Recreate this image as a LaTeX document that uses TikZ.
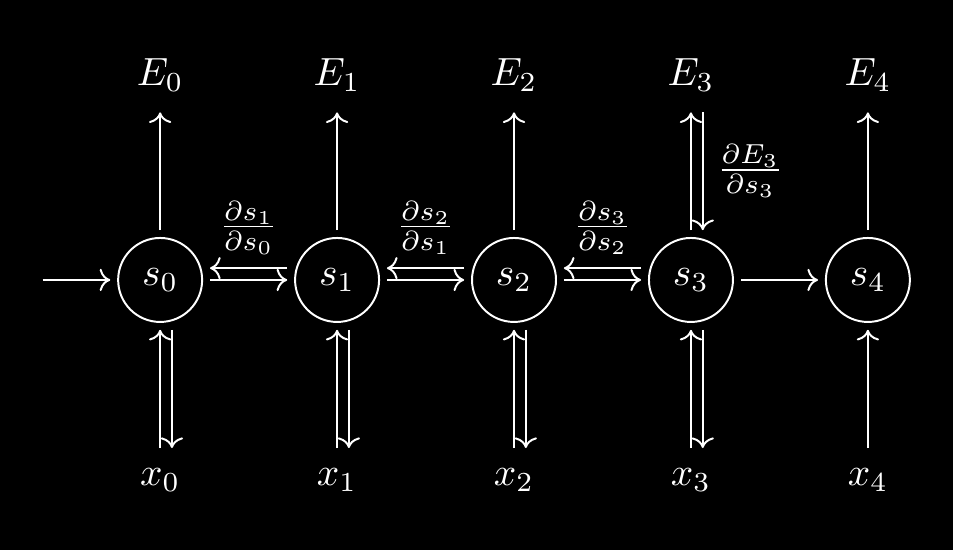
\documentclass[tikz,border=0pt]{standalone}
\usepackage{xcolor}
\usepackage{tikz}
\usetikzlibrary{arrows.meta}
\usetikzlibrary{positioning}
\usepackage{amsmath}
\usepackage{amssymb}

\begin{document}
\begin{tikzpicture}[white, line width=0.5pt]
\tikzstyle{estado}=[
    circle,
    draw=white,
    inner sep=0pt,
    outer sep=2pt,
    minimum size=7.5mm % Tamaño de nodo
]
\tikzstyle{etiqueta}=[inner sep=3.33pt, outer sep=2pt]
\tikzstyle{flecha}=[->]

% Fondo
\path[use as bounding box, fill=black] (-1.43,-2.41) rectangle (7.08,2.5);

% Estados
\node[estado] (s0) at (0,0) {$s_0$};
\node[estado] (s1) at (1.58,0) {$s_1$};
\node[estado] (s2) at (3.16,0) {$s_2$};
\node[estado] (s3) at (4.74,0) {$s_3$};
\node[estado] (s4) at (6.32,0) {$s_4$};

% Salidas
\node[etiqueta] (E0) at (0,1.83) {$E_0$};
\node[etiqueta] (E1) at (1.58,1.83) {$E_1$};
\node[etiqueta] (E2) at (3.16,1.83) {$E_2$};
\node[etiqueta] (E3) at (4.74,1.83) {$E_3$};
\node[etiqueta] (E4) at (6.32,1.83) {$E_4$};

% Entradas
\node[etiqueta] (x0) at (0,-1.79) {$x_0$};
\node[etiqueta] (x1) at (1.58,-1.79) {$x_1$};
\node[etiqueta] (x2) at (3.16,-1.79) {$x_2$};
\node[etiqueta] (x3) at (4.74,-1.79) {$x_3$};
\node[etiqueta] (x4) at (6.32,-1.79) {$x_4$};

\coordinate (inicio) at (-1.05,0);

% Flechas hacia adelante
\draw[flecha] (inicio) -- (s0);
\draw[flecha] (s0) -- (s1);
\draw[flecha] (s1) -- (s2);
\draw[flecha] (s2) -- (s3);
\draw[flecha] (s3) -- (s4);

\draw[flecha] (s0) -- (E0);
\draw[flecha] (s1) -- (E1);
\draw[flecha] (s2) -- (E2);
\draw[flecha] (s3) -- (E3);
\draw[flecha] (s4) -- (E4);

\draw[flecha] (x0) -- (s0);
\draw[flecha] (x1) -- (s1);
\draw[flecha] (x2) -- (s2);
\draw[flecha] (x3) -- (s3);
\draw[flecha] (x4) -- (s4);

% Gradientes
\draw[flecha] ([yshift=3pt]s1.west) -- node[above] {$\frac{\partial s_1}{\partial s_0}$} ([yshift=3pt]s0.east);
\draw[flecha] ([yshift=3pt]s2.west) -- node[above] {$\frac{\partial s_2}{\partial s_1}$} ([yshift=3pt]s1.east);
\draw[flecha] ([yshift=3pt]s3.west) -- node[above] {$\frac{\partial s_3}{\partial s_2}$} ([yshift=3pt]s2.east);
\draw[flecha] ([xshift=3pt]E3.south) -- node[right] {$\frac{\partial E_3}{\partial s_3}$} ([xshift=3pt]s3.north);

\draw[flecha] ([xshift=3pt]s0.south) -- ([xshift=3pt]x0.north);
\draw[flecha] ([xshift=3pt]s1.south) -- ([xshift=3pt]x1.north);
\draw[flecha] ([xshift=3pt]s2.south) -- ([xshift=3pt]x2.north);
\draw[flecha] ([xshift=3pt]s3.south) -- ([xshift=3pt]x3.north);

\end{tikzpicture}
\end{document}
